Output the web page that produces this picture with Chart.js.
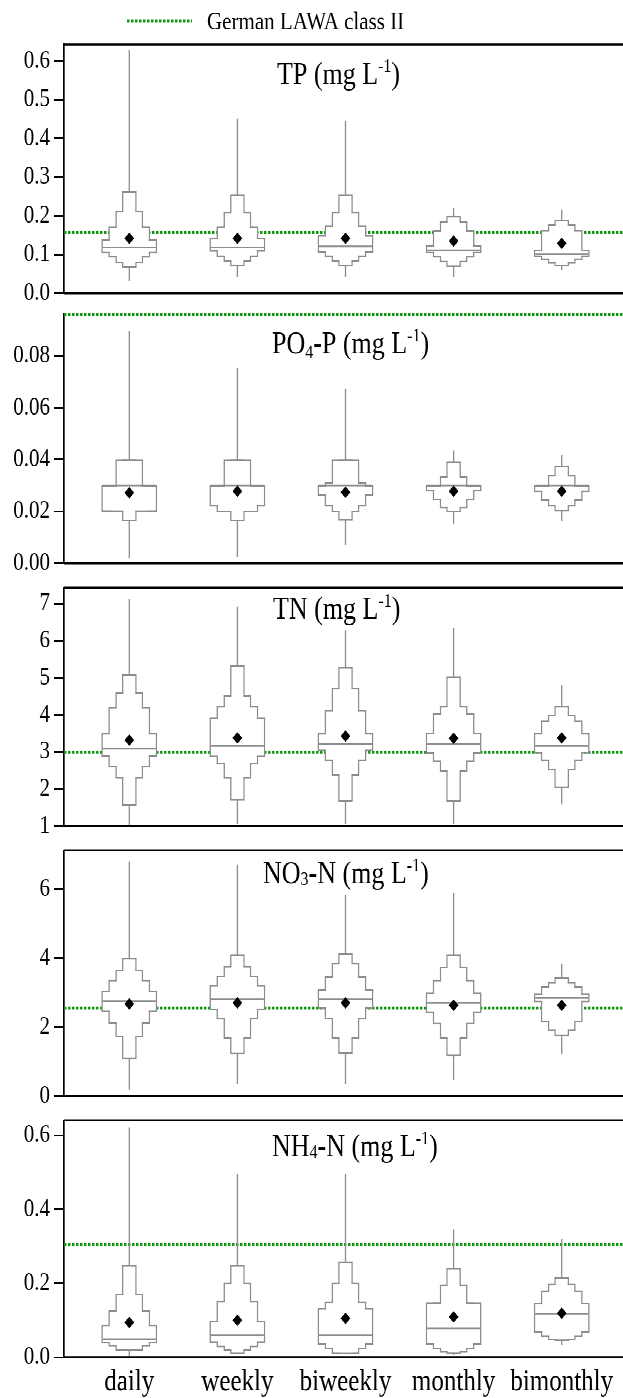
<!DOCTYPE html>
<html>
<head>
<meta charset="utf-8">
<script src="https://cdn.jsdelivr.net/npm/chart.js@4.4.0/dist/chart.umd.min.js"></script>
<style>
  html, body { margin: 0; padding: 0; background: #fff; width: 623px; height: 1398px; overflow: hidden; }
  /* the original figure is stretched vertically, so is this one */
  #figure { position: relative; width: 623px; height: 1165px; transform: scaleY(1.2); transform-origin: 0 0; }
  #figure canvas { position: absolute; left: 0; }
</style>
</head>
<body>
<div id="figure"></div>
<script>
const categories = ["daily", "weekly", "biweekly", "monthly", "bimonthly"];

// letter-value boxes: lower / upper ends of the four boxes, widest box first
// TP
const tpLow = [[0.104, 0.093, 0.078, 0.066], [0.108, 0.095, 0.083, 0.070], [0.106, 0.095, 0.083, 0.070], [0.104, 0.093, 0.081, 0.069], [0.095, 0.087, 0.077, 0.070]];
const tpHigh = [[0.138, 0.172, 0.212, 0.263], [0.142, 0.172, 0.210, 0.254], [0.149, 0.175, 0.210, 0.254], [0.124, 0.162, 0.185, 0.199], [0.112, 0.163, 0.178, 0.189]];
const tpMedian = [0.118, 0.118, 0.121, 0.111, 0.101];
const tpMean = [0.142, 0.142, 0.142, 0.135, 0.129];
const tpMin = [0.032, 0.042, 0.042, 0.042, 0.060];
const tpMax = [0.629, 0.451, 0.446, 0.221, 0.216];

// PO4-P
const poLow = [[0.020, 0.020, 0.020, 0.0163], [0.022, 0.0198, 0.0198, 0.0163], [0.0261, 0.022, 0.0198, 0.0166], [0.0278, 0.0245, 0.0213, 0.0198], [0.0276, 0.0242, 0.022, 0.0201]];
const poHigh = [[0.030, 0.030, 0.040, 0.040], [0.030, 0.030, 0.040, 0.040], [0.030, 0.0311, 0.040, 0.040], [0.030, 0.030, 0.0335, 0.0391], [0.030, 0.030, 0.0339, 0.0376]];
const poMedian = [0.030, 0.030, 0.030, 0.030, 0.030];
const poMean = [0.0272, 0.0278, 0.0274, 0.0278, 0.0278];
const poMin = [0.002, 0.0025, 0.0069, 0.0153, 0.0163];
const poMax = [0.0897, 0.0752, 0.0671, 0.0436, 0.0416];

// TN
const tnLow = [[2.88, 2.59, 2.29, 1.56], [2.87, 2.68, 2.29, 1.69], [3.03, 2.77, 2.37, 1.67], [2.96, 2.74, 2.48, 1.66], [2.97, 2.77, 2.51, 2.04]];
const tnHigh = [[3.50, 4.21, 4.61, 5.09], [3.93, 4.23, 4.52, 5.33], [3.50, 4.13, 4.72, 5.28], [3.51, 4.04, 4.23, 5.03], [3.50, 3.85, 4.00, 4.23]];
const tnMedian = [3.09, 3.16, 3.21, 3.21, 3.16];
const tnMean = [3.32, 3.38, 3.43, 3.37, 3.38];
const tnMin = [1.02, 1.06, 1.06, 1.06, 1.59];
const tnMax = [7.12, 6.93, 6.29, 6.34, 4.80];

// NO3-N
const noLow = [[2.44, 2.11, 1.71, 1.08], [2.50, 2.23, 1.67, 1.22], [2.53, 2.23, 1.67, 1.24], [2.42, 2.09, 1.67, 1.17], [2.73, 2.14, 1.90, 1.74]];
const noHigh = [[3.05, 3.36, 3.65, 3.99], [3.20, 3.48, 3.76, 4.10], [3.08, 3.46, 3.85, 4.13], [2.99, 3.36, 3.74, 4.10], [2.97, 3.17, 3.29, 3.44]];
const noMedian = [2.75, 2.80, 2.80, 2.70, 2.84];
const noMean = [2.67, 2.70, 2.70, 2.63, 2.63];
const noMin = [0.19, 0.35, 0.35, 0.46, 1.21];
const noMax = [6.80, 6.71, 5.83, 5.88, 3.83];

// NH4-N
const nhLow = [[0.038, 0.029, 0.019, 0.019], [0.040, 0.028, 0.019, 0.009], [0.034, 0.022, 0.009, 0.009], [0.034, 0.022, 0.013, 0.009], [0.067, 0.056, 0.047, 0.045]];
const nhHigh = [[0.087, 0.127, 0.171, 0.249], [0.098, 0.152, 0.201, 0.249], [0.132, 0.149, 0.201, 0.258], [0.148, 0.148, 0.196, 0.241], [0.146, 0.180, 0.198, 0.216]];
const nhMedian = [0.049, 0.059, 0.059, 0.078, 0.118];
const nhMean = [0.094, 0.100, 0.105, 0.109, 0.119];
const nhMin = [0.002, 0.008, 0.008, 0.005, 0.034];
const nhMax = [0.621, 0.495, 0.495, 0.345, 0.320];

// German LAWA class II per panel
const lawaClassII = [0.157, 0.096, 3.0, 2.55, 0.305];

// y axes
const yRanges = [[0, 0.643], [0, 0.0962], [1, 7.44], [0, 7.12], [0, 0.641]];
const tpTicks = [0, 0.1, 0.2, 0.3, 0.4, 0.5, 0.6];
const poTicks = [0, 0.02, 0.04, 0.06, 0.08];
const tnTicks = [1, 2, 3, 4, 5, 6, 7];
const noTicks = [0, 2, 4, 6];
const nhTicks = [0, 0.2, 0.4, 0.6];

const GRAY = "#8c8c8c";
const GREEN = "#0e9a0e";
const LEVEL_WIDTHS = [55, 41, 27, 14];
const X_MIN = -0.604, X_MAX = 4.567;
const SERIF = '"Liberation Serif", "Times New Roman", serif';

Chart.defaults.font.family = SERIF;
Chart.defaults.color = "#000";

const panels = [
  { low: tpLow, high: tpHigh, median: tpMedian, mean: tpMean, min: tpMin, max: tpMax, range: yRanges[0], ticks: tpTicks, dec: 1, lawa: lawaClassII[0],
    title: [["TP (mg L"], ["-1", "sup"], [")"]], top: 0, padTop: 37, area: 210, titleX: 277, titleBase: 33, frameTop: true, legend: true },
  { low: poLow, high: poHigh, median: poMedian, mean: poMean, min: poMin, max: poMax, range: yRanges[1], ticks: poTicks, dec: 2, lawa: lawaClassII[1],
    title: [["PO"], ["4", "sub"], ["-P (mg L"], ["-1", "sup"], [")"]], top: 245, padTop: 14, area: 213, titleX: 272, titleBase: 33, frameTop: false },
  { low: tnLow, high: tnHigh, median: tnMedian, mean: tnMean, min: tnMin, max: tnMax, range: yRanges[2], ticks: tnTicks, dec: 0, lawa: lawaClassII[2],
    title: [["TN (mg L"], ["-1", "sup"], [")"]], top: 473, padTop: 14, area: 204, titleX: 273, titleBase: 26, frameTop: true },
  { low: noLow, high: noHigh, median: noMedian, mean: noMean, min: noMin, max: noMax, range: yRanges[3], ticks: noTicks, dec: 0, lawa: lawaClassII[3],
    title: [["NO"], ["3", "low"], ["-N (mg L"], ["-1", "sup"], [")"]], top: 692, padTop: 14, area: 210, titleX: 263, titleBase: 27.5, frameTop: true },
  { low: nhLow, high: nhHigh, median: nhMedian, mean: nhMean, min: nhMin, max: nhMax, range: yRanges[4], ticks: nhTicks, dec: 1, lawa: lawaClassII[4],
    title: [["NH"], ["4", "low"], ["-N (mg L"], ["-1", "sup"], [")"]], top: 917, padTop: 14, area: 200, titleX: 272, titleBase: 30, frameTop: true, xLabels: true }
];

function drawRich(ctx, parts, x, y) {
  ctx.textBaseline = "alphabetic";
  ctx.textAlign = "left";
  ctx.fillStyle = "#000";
  parts.forEach(([text, kind]) => {
    const size = kind ? 16 : 26;
    const dy = kind === "sup" ? -10 : kind === "sub" ? 4 : kind === "low" ? 1.5 : 0;
    ctx.font = size + "px " + SERIF;
    ctx.fillText(text, x, y + dy);
    x += ctx.measureText(text).width;
  });
}

const panelDecor = {
  id: "panelDecor",
  afterDraw(chart, args, opts) {
    const { ctx, chartArea: a } = chart;
    const p = opts.panel;
    ctx.save();
    ctx.strokeStyle = "#000";
    ctx.lineWidth = 1.7;
    ctx.beginPath();
    if (p.frameTop) { ctx.moveTo(a.left, a.top); ctx.lineTo(a.right, a.top); }
    ctx.moveTo(a.left, a.bottom); ctx.lineTo(a.right, a.bottom);
    ctx.stroke();
    drawRich(ctx, p.title, p.titleX, a.top + p.titleBase);
    if (p.legend) {
      ctx.strokeStyle = GREEN;
      ctx.lineWidth = 2.5;
      ctx.setLineDash([2.5, 1.5]);
      ctx.beginPath();
      ctx.moveTo(127, 17.5); ctx.lineTo(192, 17.5);
      ctx.stroke();
      ctx.setLineDash([]);
      ctx.font = "21px " + SERIF;
      ctx.fillText("German LAWA class II", 207, 24.5);
    }
    ctx.restore();
  }
};

const figure = document.getElementById("figure");

panels.forEach((p) => {
  const height = p.padTop + p.area + (p.xLabels ? 34 : 14);
  const canvas = document.createElement("canvas");
  canvas.width = 623;
  canvas.height = height;
  canvas.style.top = p.top + "px";
  figure.appendChild(canvas);

  const datasets = [];
  datasets.push({
    type: "line",
    data: [{ x: X_MIN, y: p.lawa }, { x: X_MAX, y: p.lawa }],
    borderColor: GREEN, borderWidth: 2.4, borderDash: [2.5, 1.5],
    pointRadius: 0, clip: false, order: 10
  });
  datasets.push({
    type: "bar",
    data: categories.map((c, i) => ({ x: i, y: [p.min[i], p.max[i]] })),
    backgroundColor: GRAY, borderWidth: 0, barThickness: 1.3, inflateAmount: 0,
    grouped: false, order: 9
  });
  // outlines of the boxes
  LEVEL_WIDTHS.forEach((w, k) => {
    datasets.push({
      type: "bar",
      data: categories.map((c, i) => ({ x: i, y: [p.low[i][k], p.high[i][k]] })),
      backgroundColor: "#fff", borderColor: GRAY, borderWidth: 1.4, borderSkipped: false,
      barThickness: w, grouped: false, order: 8
    });
  });
  // white insides, so only the outer outline of the stacked boxes stays
  LEVEL_WIDTHS.forEach((w, k) => {
    datasets.push({
      type: "bar",
      data: categories.map((c, i) => ({ x: i, y: [p.low[i][k], p.high[i][k]] })),
      backgroundColor: "#fff", borderColor: "rgba(255,255,255,0)", borderWidth: 1.4, borderSkipped: false,
      barThickness: w, grouped: false, order: 7
    });
  });
  datasets.push({
    type: "scatter",
    data: categories.map((c, i) => ({ x: i, y: p.median[i] })),
    pointStyle: "line", pointRadius: LEVEL_WIDTHS[0] / 2 - 1, borderColor: GRAY, borderWidth: 1.4, order: 6
  });
  datasets.push({
    type: "scatter",
    data: categories.map((c, i) => ({ x: i, y: p.mean[i] })),
    pointStyle: "rectRot", pointRadius: 4.6, backgroundColor: "#000", borderColor: "#000", borderWidth: 0.5, order: 5
  });

  new Chart(canvas, {
    type: "bar",
    data: { datasets },
    options: {
      responsive: false,
      animation: false,
      devicePixelRatio: 2,
      events: [],
      layout: { autoPadding: false, padding: { top: p.padTop, bottom: p.xLabels ? 0 : 14, left: 0, right: 0 } },
      plugins: { legend: { display: false }, tooltip: { enabled: false }, panelDecor: { panel: p } },
      scales: {
        x: {
          type: "linear", min: X_MIN, max: X_MAX, offset: false, display: !!p.xLabels,
          afterBuildTicks: (s) => { s.ticks = categories.map((c, i) => ({ value: i })); },
          afterFit: (s) => { s.height = p.xLabels ? 34 : 0; },
          ticks: { callback: (v, i) => categories[i], font: { size: 25 }, color: "#000", padding: 6, maxRotation: 0, autoSkip: false },
          grid: { display: false, drawTicks: false },
          border: { display: false }
        },
        y: {
          type: "linear", min: p.range[0], max: p.range[1],
          afterFit: (s) => { s.width = 64; },
          afterBuildTicks: (s) => { s.ticks = p.ticks.map((v) => ({ value: v })); },
          ticks: { callback: (v) => Number(v).toFixed(p.dec), font: { size: 21 }, color: "#000", padding: 4, autoSkip: false },
          grid: { drawOnChartArea: false, tickLength: 10, color: "#000", lineWidth: 1.5 },
          border: { display: true, color: "#000", width: 1.7 }
        }
      }
    },
    plugins: [panelDecor]
  });
});
</script>
</body>
</html>
